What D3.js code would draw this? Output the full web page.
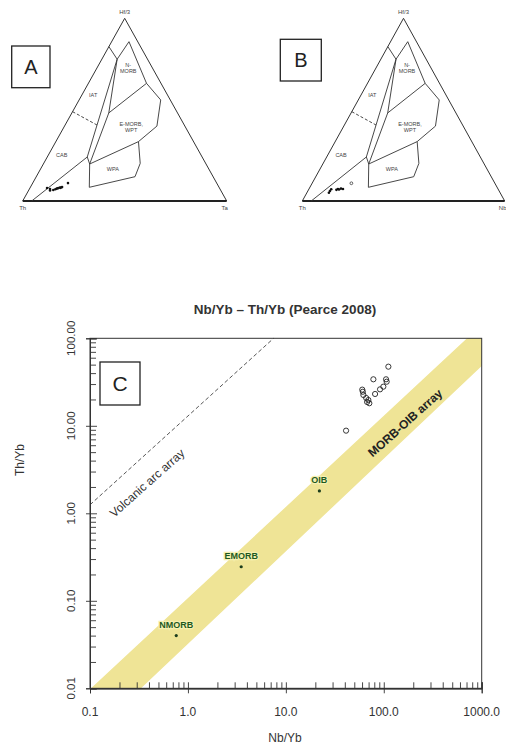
<!DOCTYPE html>
<html><head><meta charset="utf-8">
<script src="https://cdn.jsdelivr.net/npm/d3@7"></script>
<style>body{margin:0;background:#fff}svg{display:block}</style>
</head><body><svg id="c" width="506" height="752"></svg>
<script>
// ---------- Data: panel C (Nb/Yb vs Th/Yb) ----------
const xTickValues = [0.1, 1, 10, 100, 1000];
const xTickLabels = ["0.1", "1.0", "10.0", "100.0", "1000.0"];
const yTickValues = [0.01, 0.1, 1, 10, 100];
const yTickLabels = ["0.01", "0.10", "1.00", "10.00", "100.00"];
const sampleNbYb = [111.4, 78.3, 105.5, 107, 99, 91.6, 81.5, 61.1, 61.9, 69.6, 71.2, 41.2, 60.3, 66.1, 67.6];
const sampleThYb = [47.4, 34, 34, 31.9, 28, 26.1, 23.1, 24.5, 22.5, 19.7, 18.1, 8.8, 25.9, 20.8, 18.7];
const refNames = ["NMORB", "EMORB", "OIB"];
const refNbYb = [0.76, 3.5, 22];
const refThYb = [0.04, 0.245, 1.8];
const bandNbYb = [0.105, 0.324, 1000, 1000, 726];
const bandThYb = [0.01, 0.01, 49.5, 100, 100];
const arcNbYb = [0.1, 7.5];
const arcThYb = [1.25, 100];

// ---------- Data: ternary panels A and B, points as [Hf/3, Ta (or Nb/16)] ----------
const ternaryPanels = ["A", "B"];
const ternaryTop = ["Hf/3", "Hf/3"];
const ternaryLeft = ["Th", "Th"];
const ternaryRight = ["Ta", "Nb"];
const lineIatMorb = [[0.845, 0], [0.776, 0.075]];
const lineNmorb = [[0.776, 0.075], [0.872, 0.085], [0.644, 0.285]];
const lineOuterFields = [[0.644, 0.285], [0.553, 0.40], [0.41, 0.453], [0.325, 0.405], [0.206, 0.473], [0.133, 0.484], [0.075, 0.289], [0.2025, 0.227]];
const lineLa = [[0.776, 0.075], [0.241, 0.196]];
const lineLb = [[0.776, 0.075], [0.482, 0.181], [0.2025, 0.227]];
const lineNE = [[0.644, 0.285], [0.482, 0.181]];
const lineWpaTop = [[0.2025, 0.227], [0.325, 0.405]];
const lineCab = [[0, 0.044], [0.241, 0.196], [0.2025, 0.227]];
const lineDashed = [[0.489, 0], [0.416, 0.156]];
const fieldLabels = [["IAT"], ["N-", "MORB"], ["E-MORB,", "WPT"], ["WPA"], ["CAB"]];
const fieldLabelPos = [[0.571, 0.06], [0.735, 0.15], [0.41, 0.327], [0.166, 0.359], [0.239, 0.072]];
const samplesA = [[0.071, 0.084], [0.066, 0.101], [0.058, 0.105], [0.060, 0.120], [0.064, 0.128], [0.068, 0.133], [0.071, 0.140], [0.074, 0.146], [0.072, 0.150], [0.076, 0.155], [0.070, 0.137], [0.098, 0.173]];
const samplesB = [[0.045, 0.109], [0.064, 0.111], [0.055, 0.109], [0.066, 0.143], [0.068, 0.157], [0.066, 0.168], [0.061, 0.138], [0.063, 0.150]];
const samplesBOpen = [[0.097, 0.194]];

const FONT = "'Liberation Sans', Arial, sans-serif";
const svg = d3.select("#c").style("font-family", FONT);
svg.append("rect").attr("width", 506).attr("height", 752).attr("fill", "#fff");

// ---------- Ternary panels ----------
const ternaryGeom = [
  { x0: 22.7, x1: 226.7, box: [11.7, 46, 38.3, 41.7], samples: samplesA, open: [] },
  { x0: 302.3, x1: 504.7, box: [280.3, 39.3, 41, 41.7], samples: samplesB, open: samplesBOpen }
];
ternaryGeom.forEach((g, i) => {
  const xs = d3.scaleLinear().domain([0, 1]).range([g.x0, g.x1]);
  const ys = d3.scaleLinear().domain([0, 1]).range([201, 18.3]);
  const P = d => [xs(d[1] + d[0] / 2), ys(d[0])];
  const line = d3.line().x(d => P(d)[0]).y(d => P(d)[1]);
  const G = svg.append("g");
  const stroke = "#333";
  G.append("path").attr("d", line([[0, 0], [1, 0], [0, 1]])).attr("fill", "none").attr("stroke", stroke).attr("stroke-width", 1);
  G.append("path").attr("d", line([[0, 0], [0, 1]])).attr("fill", "none").attr("stroke", "#222").attr("stroke-width", 2);
  [lineIatMorb, lineNmorb, lineOuterFields, lineLa, lineLb, lineNE, lineWpaTop, lineCab].forEach(l => {
    G.append("path").attr("d", line(l)).attr("fill", "none").attr("stroke", stroke).attr("stroke-width", 0.9);
  });
  G.append("path").attr("d", line(lineDashed)).attr("fill", "none").attr("stroke", stroke).attr("stroke-width", 0.9).attr("stroke-dasharray", "3,2");
  fieldLabels.forEach((lab, k) => {
    const p = P(fieldLabelPos[k]);
    const t = G.append("text").attr("x", p[0]).attr("y", p[1]).attr("text-anchor", "middle")
      .attr("font-size", 5.5).attr("fill", "#444");
    lab.forEach((s, j) => t.append("tspan").attr("x", p[0]).attr("dy", j ? 6 : 0).text(s));
  });
  const top = P([1, 0]), bl = P([0, 0]), br = P([0, 1]);
  G.append("text").attr("x", top[0]).attr("y", top[1] - 4).attr("text-anchor", "middle").attr("font-size", 6).attr("fill", "#444").text(ternaryTop[i]);
  G.append("text").attr("x", bl[0]).attr("y", bl[1] + 9).attr("text-anchor", "middle").attr("font-size", 6).attr("fill", "#444").text(ternaryLeft[i]);
  G.append("text").attr("x", br[0] - 2).attr("y", br[1] + 9).attr("text-anchor", "middle").attr("font-size", 6).attr("fill", "#444").text(ternaryRight[i]);
  g.samples.forEach(d => {
    const p = P(d);
    G.append("circle").attr("cx", p[0]).attr("cy", p[1]).attr("r", 1.3).attr("fill", "#111");
  });
  g.open.forEach(d => {
    const p = P(d);
    G.append("circle").attr("cx", p[0]).attr("cy", p[1]).attr("r", 1.4).attr("fill", "none").attr("stroke", "#222").attr("stroke-width", 0.7);
  });
  const b = g.box;
  G.append("rect").attr("x", b[0]).attr("y", b[1]).attr("width", b[2]).attr("height", b[3]).attr("fill", "#fff").attr("stroke", "#222").attr("stroke-width", 1.3);
  G.append("text").attr("x", b[0] + b[2] / 2).attr("y", b[1] + b[3] / 2 + 7).attr("text-anchor", "middle").attr("font-size", 20).attr("fill", "#222").text(ternaryPanels[i]);
});

// ---------- Panel C ----------
const x = d3.scaleLog().domain([0.1, 1000]).range([90, 481.7]);
const y = d3.scaleLog().domain([0.01, 100]).range([688.3, 338.3]);

svg.append("defs").append("clipPath").attr("id", "plotclip").append("rect")
  .attr("x", 90).attr("y", 338.3).attr("width", 391.7).attr("height", 350);

const C = svg.append("g");
const band = bandNbYb.map((v, k) => [v, bandThYb[k]]);
C.append("path").attr("clip-path", "url(#plotclip)")
  .attr("d", d3.line().x(d => x(d[0])).y(d => y(d[1]))(band) + "Z")
  .attr("fill", "#efe496").attr("stroke", "#efe496").attr("stroke-width", 1.5).attr("stroke-linejoin", "round");

const arc = arcNbYb.map((v, k) => [v, arcThYb[k]]);
C.append("path").attr("d", d3.line().x(d => x(d[0])).y(d => y(d[1]))(arc))
  .attr("fill", "none").attr("stroke", "#444").attr("stroke-width", 0.9).attr("stroke-dasharray", "4,2.5");

// Frame
C.append("rect").attr("x", 90).attr("y", 338.3).attr("width", 391.7).attr("height", 350)
  .attr("fill", "none").attr("stroke", "#333").attr("stroke-width", 1);

// Minor ticks
const xMinor = [], yMinor = [];
[0.1, 1, 10, 100].forEach(d => d3.range(2, 10).forEach(k => xMinor.push(d * k)));
[0.01, 0.1, 1, 10].forEach(d => d3.range(2, 10).forEach(k => yMinor.push(d * k)));
const axB = C.append("g").attr("transform", "translate(0,688.3)");
axB.call(d3.axisBottom(x).tickValues(xMinor).tickSize(-6).tickFormat(""));
axB.append("g").call(d3.axisBottom(x).tickValues(xTickValues).tickSize(5).tickFormat(""));
axB.append("g").call(d3.axisBottom(x).tickValues(xTickValues).tickSize(-6).tickFormat(""));
const axL = C.append("g").attr("transform", "translate(90,0)");
axL.call(d3.axisLeft(y).tickValues(yMinor).tickSize(-6).tickFormat(""));
axL.append("g").call(d3.axisLeft(y).tickValues(yTickValues).tickSize(4).tickFormat(""));
axL.append("g").call(d3.axisLeft(y).tickValues(yTickValues).tickSize(-7).tickFormat(""));
C.selectAll(".domain").attr("stroke", "#333");
C.selectAll(".tick line").attr("stroke", "#333").attr("stroke-width", 0.9);

xTickValues.forEach((v, k) => {
  C.append("text").attr("x", x(v)).attr("y", 716).attr("text-anchor", "middle")
    .attr("font-size", 12).attr("fill", "#333").text(xTickLabels[k]);
});
yTickValues.forEach((v, k) => {
  C.append("text").attr("transform", `translate(75,${y(v)}) rotate(-90)`).attr("text-anchor", "middle")
    .attr("font-size", 11.5).attr("fill", "#333").text(yTickLabels[k]);
});

// Axis titles and title
C.append("text").attr("x", 285).attr("y", 742).attr("text-anchor", "middle").attr("font-size", 12).attr("fill", "#333").text("Nb/Yb");
C.append("text").attr("transform", "translate(24,460) rotate(-90)").attr("text-anchor", "middle").attr("font-size", 12).attr("fill", "#333").text("Th/Yb");
C.append("text").attr("x", 285).attr("y", 314).attr("text-anchor", "middle").attr("font-size", 13.5).attr("font-weight", "bold").attr("fill", "#333").text("Nb/Yb – Th/Yb (Pearce 2008)");

// Array labels
const angle = -Math.atan((y(1) - y(10)) / (x(10) - x(1))) * 180 / Math.PI;
C.append("text").attr("transform", `translate(${x(0.382)},${y(2.22)}) rotate(${angle})`)
  .attr("text-anchor", "middle").attr("dy", "0.35em").attr("font-size", 12).attr("fill", "#333").text("Volcanic arc array");
C.append("text").attr("transform", `translate(${x(165)},${y(10.8)}) rotate(${angle})`)
  .attr("text-anchor", "middle").attr("dy", "0.35em").attr("font-size", 12).attr("font-weight", "bold").attr("fill", "#222").text("MORB-OIB array");

// Reference compositions
refNames.forEach((n, k) => {
  C.append("circle").attr("cx", x(refNbYb[k])).attr("cy", y(refThYb[k])).attr("r", 1.6).attr("fill", "#1c3d1c");
  C.append("text").attr("x", x(refNbYb[k])).attr("y", y(refThYb[k]) - 8).attr("text-anchor", "middle")
    .attr("font-size", 9).attr("font-weight", "bold").attr("fill", "#1f5a1f")
    .attr("stroke", "#f6f0b0").attr("stroke-width", 2.5).attr("paint-order", "stroke").text(n);
});

// Samples
sampleNbYb.forEach((v, k) => {
  C.append("circle").attr("cx", x(v)).attr("cy", y(sampleThYb[k])).attr("r", 2.6)
    .attr("fill", "none").attr("stroke", "#222").attr("stroke-width", 0.9);
});

// Panel letter C
C.append("rect").attr("x", 100).attr("y", 362).attr("width", 40).attr("height", 43).attr("fill", "#fff").attr("stroke", "#222").attr("stroke-width", 1.3);
C.append("text").attr("x", 120).attr("y", 391).attr("text-anchor", "middle").attr("font-size", 21).attr("fill", "#222").text("C");
</script></body></html>
